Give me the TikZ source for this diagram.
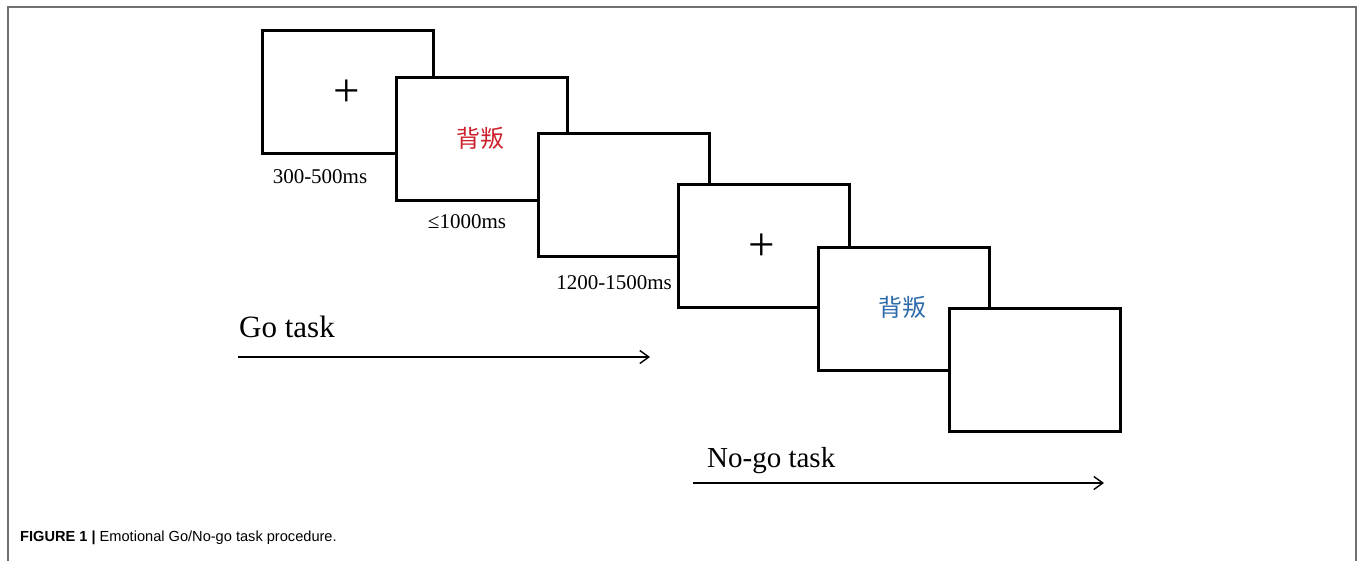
\documentclass[tikz,border=0pt]{standalone}
\usepackage{fontspec}
\setmainfont{Liberation Serif}
\newfontfamily\capfont{Liberation Sans}
\newfontfamily\cjk{Noto Sans CJK SC}
\usepackage{tikz}
\usetikzlibrary{arrows.meta, positioning}
\definecolor{wordred}{RGB}{204,32,44}
\definecolor{wordblue}{RGB}{44,108,170}
\definecolor{framegray}{RGB}{112,112,112}

\begin{document}
\begin{tikzpicture}[
  x=1pt, y=-1pt,
  screen/.style={draw=black, fill=white, line width=2.6pt, anchor=north west,
                 minimum width=171pt, minimum height=123pt, inner sep=0pt},
  fix/.style={font=\fontsize{47}{47}\selectfont, inner sep=0pt},
  word/.style={font=\cjk\fontsize{24}{24}\selectfont, inner sep=0pt},
  dur/.style={font=\fontsize{21}{21}\selectfont, inner sep=0pt},
  task/.style={font=\fontsize{29}{29}\selectfont, inner sep=0pt, anchor=west},
  arr/.style={-{Straight Barb[length=9pt, width=13pt]}, line width=1.4pt},
]
  \useasboundingbox (0,0) rectangle (1357,560);
  \draw[framegray, line width=1.6pt] (8,562) -- (8,7) -- (1356,7) -- (1356,562);

  % Go trial
  \node[screen] (s1) at (261,29) {};
  \node[fix] (p1) at (347,93) {+};
  \node[screen] (s2) at (395,76) {};
  \node[word, wordred] (w1) at (480,138) {背叛};
  \node[screen] (s3) at (537,132) {};

  % No-go trial
  \node[screen] (s4) at (677,183) {};
  \node[fix] (p2) at (762,247) {+};
  \node[screen] (s5) at (817,246) {};
  \node[word, wordblue] (w2) at (902,307) {背叛};
  \node[screen] (s6) at (948,307) {};

  % durations
  \node[dur] (d1) at (320,177) {300-500ms};
  \node[dur] (d2) at (467,222) {≤1000ms};
  \node[dur] (d3) at (614,283) {1200-1500ms};

  % task arrows
  \node[task, font=\fontsize{31}{31}\selectfont] (go) at (239,327) {Go task};
  \coordinate (gos) at (238,357);
  \coordinate (goe) at (650,357);
  \draw[arr] (gos) -- (goe);

  \node[task] (nogo) at (707,461) {No-go task};
  \coordinate (ngs) at (693,483);
  \coordinate (nge) at (1104,483);
  \draw[arr] (ngs) -- (nge);

  \node[anchor=west, inner sep=0pt, font=\capfont\fontsize{14.6}{14.6}\selectfont]
    (cap) at (20,538) {\textbf{FIGURE 1 |} Emotional Go/No-go task procedure.};
\end{tikzpicture}
\end{document}
